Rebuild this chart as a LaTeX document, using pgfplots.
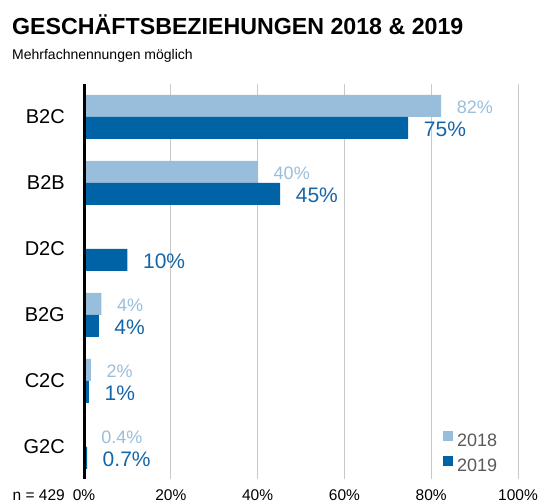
\documentclass[border=0pt]{standalone}
\usepackage{fontspec}
\setmainfont{Liberation Sans}
\usepackage{pgfplots}
\pgfplotsset{compat=1.18}
\definecolor{c18}{HTML}{99BEDB}
\definecolor{c19}{HTML}{0063A6}
\definecolor{t19}{HTML}{1466AA}
\definecolor{gridc}{HTML}{C8C8C8}
\definecolor{leg}{HTML}{595959}
\begin{document}
\begin{tikzpicture}[x=1pt,y=1pt]
\useasboundingbox (0,0) rectangle (542,504);
\node[anchor=base west, inner sep=0pt, font=\fontsize{23.2}{23.2}\selectfont\bfseries] at (12,469) {GESCHÄFTSBEZIEHUNGEN 2018 \& 2019};
\node[anchor=base west, inner sep=0pt, font=\fontsize{14}{14}\selectfont] at (12,444) {Mehrfachnennungen möglich};
\node[anchor=base east, inner sep=0pt, font=\fontsize{15.5}{15.5}\selectfont] at (65,3.5) {n = 429};
\begin{axis}[
  at={(84pt,25pt)}, anchor=south west,
  scale only axis, width=434pt, height=395pt,
  xbar, bar width=22pt,
  xmin=0, xmax=100, ymin=-0.485, ymax=5.5,
  xtick={0,20,...,100},
  xticklabels={0\%,20\%,40\%,60\%,80\%,100\%},
  ytick={0,...,5},
  yticklabels={G2C,C2C,B2G,D2C,B2B,B2C},
  major tick length=0pt,
  xmajorgrids, grid style={gridc, line width=1pt},
  axis line style={draw=none},
  xticklabel style={font=\fontsize{15.5}{15.5}\selectfont, anchor=base, inner sep=0pt, yshift=-21.5pt},
  yticklabel style={font=\fontsize{20}{20}\selectfont, anchor=east, inner sep=0pt, xshift=-19pt},
  clip=false,
  legend style={at={(0.827,0.018)}, anchor=south west, draw=none, fill=none, inner sep=0pt,
    row sep=9pt, column sep=4pt, font=\fontsize{18}{18}\selectfont, text=leg,
    nodes={inner sep=0pt, text height=12pt, text depth=0pt}},
  legend image code/.code={\fill[#1] (0pt,0pt) rectangle (10pt,10pt);},
]
\addplot[fill=c18, draw=none, bar shift=11pt, point meta=explicit symbolic,
  nodes near coords,
  nodes near coords style={font=\fontsize{18}{18}\selectfont, text=c18, anchor=west, inner sep=0pt, xshift=15.5pt, yshift=-1pt}]
  coordinates {(82.3,5) [82\%] (40.1,4) [40\%] (4.0,2) [4\%] (1.6,1) [2\%] (0.4,0) [0.4\%]};
\addlegendentry{2018}
\addplot[fill=c19, draw=none, bar shift=-11pt, point meta=explicit symbolic,
  nodes near coords,
  nodes near coords style={font=\fontsize{21}{21}\selectfont, text=t19, anchor=west, inner sep=0pt, xshift=15.5pt, yshift=-1.5pt}]
  coordinates {(74.7,5) [75\%] (45.2,4) [45\%] (10,3) [10\%] (3.4,2) [4\%] (1.15,1) [1\%] (0.7,0) [0.7\%]};
\addlegendentry{2019}
\addplot[sharp plot, black, line width=3pt, forget plot] coordinates {(0,-0.485) (0,5.5)};
\end{axis}
\end{tikzpicture}
\end{document}
